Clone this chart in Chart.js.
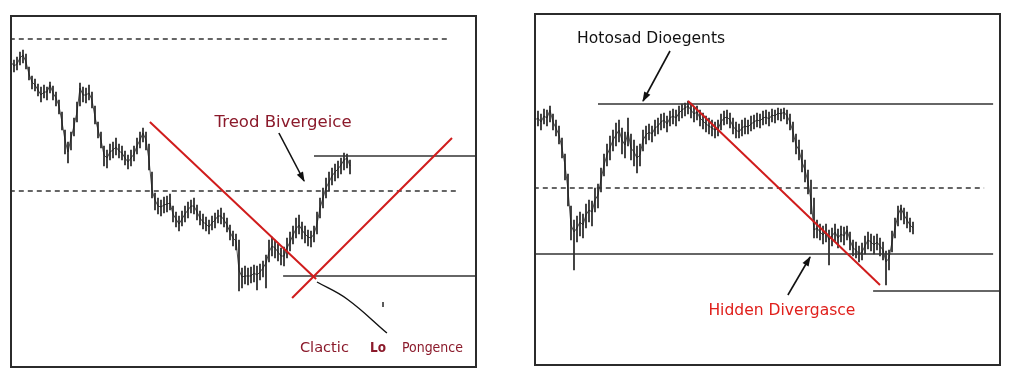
<!DOCTYPE html>
<html><head><meta charset="utf-8">
<script src="https://cdn.jsdelivr.net/npm/chart.js@4.4.1/dist/chart.umd.min.js"></script>
<style>
html,body{margin:0;padding:0;background:#fff;width:1024px;height:380px;overflow:hidden}
.panel{position:absolute}
#p1{left:10px;top:15px;width:467px;height:353px}
#p2{left:534px;top:13px;width:467px;height:353px}
</style></head><body>
<div class="panel" id="p1"><canvas id="c1" width="467" height="353"></canvas></div>
<div class="panel" id="p2"><canvas id="c2" width="467" height="353"></canvas></div>
<script>
// ---------- Left panel data (bar index, price units) ----------
const leftClose = [306,302,304,310,313,306,294,286,283,278,273,276,276,283,275,270,262,246,228,216,230,242,256,280,273,273,275,268,251,238,228,213,210,216,218,221,217,215,210,206,210,214,222,228,235,228,208,178,168,162,161,163,164,165,154,149,144,149,154,158,162,162,156,150,146,144,141,145,148,152,152,148,143,136,130,127,98,91,92,92,92,95,93,96,100,105,116,122,120,116,112,112,120,126,133,139,143,138,134,131,130,134,144,160,170,180,186,192,196,199,203,208,210,202];
const leftHigh = [312,308,311,316,318,314,301,292,289,284,281,283,281,286,282,276,268,256,238,226,236,250,266,285,281,280,283,276,262,246,236,222,218,224,226,230,224,222,217,213,218,222,230,236,240,236,224,196,175,170,168,171,172,174,162,156,152,157,162,166,168,170,163,157,154,151,148,152,155,158,160,155,150,143,137,134,128,100,102,100,101,103,102,104,107,113,128,131,128,124,120,121,130,136,142,150,153,146,142,138,137,142,156,170,180,190,196,200,204,207,210,215,214,208];
const leftLow = [298,296,298,303,305,299,288,279,277,272,266,270,268,275,268,262,254,238,214,205,218,232,246,262,266,265,268,260,244,230,220,202,200,208,210,213,210,208,203,199,202,207,214,220,226,218,198,170,158,154,152,155,156,158,146,141,137,142,146,150,155,154,148,143,139,137,134,138,140,145,144,141,136,128,122,118,77,80,84,83,85,86,78,88,91,80,106,112,110,107,103,102,110,117,124,130,134,129,125,122,121,126,134,150,160,170,177,183,187,190,194,198,200,194];

// ---------- Right panel data ----------
const rightClose = [246,248,244,250,248,256,244,238,231,218,201,176,141,134,138,144,141,151,156,154,166,171,186,201,211,218,226,231,236,226,221,234,218,214,208,211,226,231,234,232,238,240,244,246,242,248,250,248,253,256,258,260,256,252,254,248,245,242,240,238,236,237,244,248,249,246,240,236,234,238,240,239,242,244,246,245,248,249,247,251,250,253,252,254,250,244,234,221,216,204,196,184,166,136,138,134,131,134,126,130,134,128,132,130,136,126,118,116,112,114,120,126,124,121,124,120,116,104,108,124,138,151,158,151,146,141,138];
const rightHigh = [254,255,252,257,256,260,252,246,240,228,212,192,160,146,150,154,152,162,166,165,178,182,198,212,222,230,236,243,246,238,234,248,232,226,220,222,236,240,242,240,246,248,252,253,250,255,257,256,260,262,263,265,263,259,260,256,253,250,248,246,244,246,252,255,256,253,248,244,242,246,248,246,250,251,253,252,255,256,254,257,256,258,257,258,256,252,244,232,226,216,206,196,186,168,146,142,140,142,136,138,142,137,140,139,140,134,126,124,120,123,130,134,132,130,132,128,124,115,116,135,148,160,161,158,154,148,144];
const rightLow = [238,240,236,242,240,244,236,230,222,208,186,160,126,96,124,130,128,138,144,140,154,158,174,190,200,206,215,220,224,212,208,220,206,200,193,200,215,222,226,224,230,232,236,238,234,240,242,240,245,248,250,252,248,244,246,240,237,234,232,230,228,230,236,241,242,238,232,228,228,230,232,232,235,237,239,238,241,242,240,244,243,246,245,247,242,236,224,212,206,194,184,172,152,128,128,126,122,124,101,120,125,118,124,121,126,116,110,108,104,106,112,117,115,112,116,110,106,81,96,114,128,140,146,142,138,134,132];

// ---------- Annotation values (bar index, price) ----------
const leftSegments = [
  {pts:[[-0.4,329],[145.3,329]], kind:'dash'},
  {pts:[[-0.4,177],[148.3,177]], kind:'dash'},
  {pts:[[101,212],[155.4,212]], kind:'solid'},
  {pts:[[90.7,92],[155.4,92]], kind:'solid'},
  {pts:[[46.3,246],[101.7,89]], kind:'red'},
  {pts:[[93.7,70],[147,230]], kind:'red'},
  {pts:[[89.3,235],[97.7,187]], kind:'arrow'},
  {pts:[[102,86],[112,69],[125.3,35]], kind:'curve'},
  {pts:[[124,66],[124,61]], kind:'tick'}
];
const rightSegments = [
  {pts:[[21,262],[152.7,262]], kind:'solid'},
  {pts:[[-0.4,178],[149.7,178]], kind:'dash'},
  {pts:[[-0.4,112],[152.7,112]], kind:'solid'},
  {pts:[[112.7,75],[155.4,75]], kind:'solid'},
  {pts:[[51,265],[115,81]], kind:'red'},
  {pts:[[45,315],[36,265]], kind:'arrow'},
  {pts:[[84.3,71],[91.7,109]], kind:'arrow'}
];
const leftNotes = [
  {text:'Treod Bivergeice', x:90.7, y:245, width:137, size:15, align:'center', color:'#8b1a2b'},
  {text:'Clactic', x:96.3, y:20, width:49, size:14, align:'left', color:'#8b1a2b'},
  {text:'Lo', x:119.7, y:20, width:16, size:14, align:'left', color:'#8b1a2b', weight:'bold'},
  {text:'Pongence', x:130.3, y:20, width:61, size:14, align:'left', color:'#8b1a2b'}
];
const rightNotes = [
  {text:'Hotosad Dioegents', x:38.7, y:327, width:148, size:15, align:'center', color:'#111111'},
  {text:'Hidden Divergasce', x:82.3, y:55, width:147, size:15, align:'center', color:'#e0201c'}
];

const styles = {
  dash:{color:'#333', width:1.3, dash:[5,4], order:2},
  solid:{color:'#333', width:1.4, dash:[], order:2},
  red:{color:'#d01c1c', width:2, dash:[], order:1},
  arrow:{color:'#111', width:1.6, dash:[], order:0, arrow:true},
  curve:{color:'#111', width:1.4, dash:[], order:0, tension:0.4},
  tick:{color:'#444', width:1, dash:[], order:0}
};

const overlay = {
  id:'overlay',
  afterDatasetsDraw(chart, args, opts){
    const ctx = chart.ctx, xs = chart.scales.x, ys = chart.scales.y;
    chart.data.datasets.forEach((ds,i)=>{
      if(!ds.arrow) return;
      const pts = chart.getDatasetMeta(i).data;
      const a = pts[pts.length-2], b = pts[pts.length-1];
      const ang = Math.atan2(b.y-a.y, b.x-a.x);
      ctx.save(); ctx.translate(b.x,b.y); ctx.rotate(ang);
      ctx.fillStyle = ds.borderColor; ctx.beginPath();
      ctx.moveTo(1,0); ctx.lineTo(-9,-3.5); ctx.lineTo(-9,3.5); ctx.closePath(); ctx.fill();
      ctx.restore();
    });
    (opts.notes||[]).forEach(n=>{
      ctx.save();
      ctx.font = (n.weight||'normal')+' '+n.size+'px "DejaVu Sans", sans-serif';
      ctx.fillStyle = n.color; ctx.textBaseline='middle'; ctx.textAlign = n.align;
      const w = ctx.measureText(n.text).width;
      ctx.translate(xs.getPixelForValue(n.x), ys.getPixelForValue(n.y));
      ctx.scale(n.width/w, 1);
      ctx.fillText(n.text, 0, 0);
      ctx.restore();
    });
  },
  afterDraw(chart){
    const ctx = chart.ctx;
    ctx.save(); ctx.strokeStyle='#2b2b2b'; ctx.lineWidth=2;
    ctx.strokeRect(1,1,chart.width-2,chart.height-2); ctx.restore();
  }
};

function build(id, close, high, low, segments, notes){
  const datasets = [];
  segments.forEach(s=>{
    const st = styles[s.kind];
    datasets.push({type:'line', data:s.pts.map(p=>({x:p[0],y:p[1]})), borderColor:st.color,
      borderWidth:st.width, borderDash:st.dash, pointRadius:0, tension:st.tension||0,
      fill:false, order:st.order, arrow:!!st.arrow, clip:false});
  });
  datasets.push({type:'bar', data:high.map((h,i)=>({x:i, y:[low[i],h]})), backgroundColor:'#1e1e1e',
    barThickness:1, grouped:false, order:3});
  datasets.push({type:'line', data:close.map((c,i)=>({x:i,y:c})), borderColor:'#3a3a3a', borderWidth:0.9,
    pointRadius:0, tension:0, fill:false, order:3});
  return new Chart(document.getElementById(id), {
    type:'line',
    data:{datasets},
    options:{
      responsive:false, animation:false, devicePixelRatio:1,
      layout:{padding:0},
      scales:{
        x:{type:'linear', min:-0.33, max:155.33, offset:false, display:false},
        y:{type:'linear', min:0, max:353, display:false}
      },
      plugins:{legend:{display:false}, tooltip:{enabled:false}, overlay:{notes}}
    },
    plugins:[overlay]
  });
}
build('c1', leftClose, leftHigh, leftLow, leftSegments, leftNotes);
build('c2', rightClose, rightHigh, rightLow, rightSegments, rightNotes);
</script>
</body></html>
